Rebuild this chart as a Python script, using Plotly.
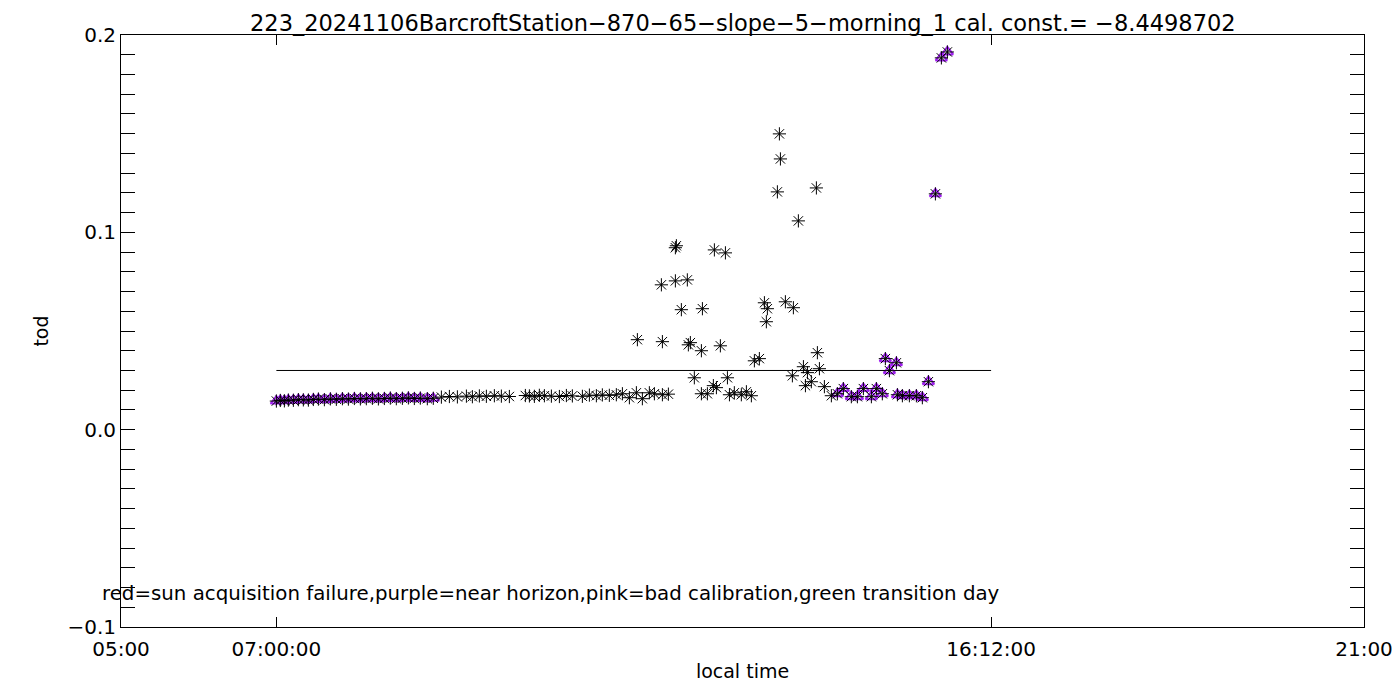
import plotly.graph_objects as go

# ---- data (decimal local hours, tod) ----
purple_early_t = [7.000, 7.051, 7.103, 7.154, 7.219, 7.283, 7.347, 7.412, 7.476, 7.541,
                  7.618, 7.695, 7.772, 7.850, 7.927, 8.004, 8.081, 8.158, 8.236, 8.313,
                  8.390, 8.467, 8.544, 8.622, 8.699, 8.776, 8.853, 8.943, 9.020]
purple_early_v = [0.0145, 0.0148, 0.0146, 0.0150, 0.0149, 0.0152, 0.0151, 0.0150, 0.0153, 0.0155,
                  0.0152, 0.0156, 0.0154, 0.0157, 0.0155, 0.0158, 0.0156, 0.0157, 0.0159, 0.0156,
                  0.0158, 0.0160, 0.0157, 0.0159, 0.0161, 0.0158, 0.0160, 0.0157, 0.0159]

black_low_t = [9.124, 9.227, 9.330, 9.446, 9.523, 9.613, 9.703, 9.806, 9.896, 9.999,
               10.205, 10.257, 10.321, 10.385, 10.450, 10.540, 10.643, 10.733, 10.810, 10.939,
               11.029, 11.119, 11.196, 11.286, 11.376, 11.454, 11.544, 11.634, 11.711, 11.801,
               11.866, 11.969, 12.046]
black_low_v = [0.0165, 0.0168, 0.0166, 0.0170, 0.0167, 0.0171, 0.0169, 0.0172, 0.0170, 0.0168,
               0.0173, 0.0171, 0.0169, 0.0174, 0.0172, 0.0170, 0.0168, 0.0173, 0.0171, 0.0169,
               0.0175, 0.0172, 0.0176, 0.0174, 0.0177, 0.0182, 0.0162, 0.0187, 0.0157, 0.0187,
               0.0182, 0.0177, 0.0180]

black_mid_t = [11.647, 11.956, 11.969, 12.136, 12.149, 12.136, 12.213, 12.290, 12.303, 12.329,
               12.380, 12.471, 12.471, 12.484, 12.548, 12.625, 12.664, 12.638, 12.715, 12.780,
               12.806, 12.832, 12.895, 12.985, 13.050, 13.114, 13.153, 13.217, 13.282, 13.307,
               13.320, 13.449, 13.475, 13.488, 13.552, 13.642, 13.655, 13.719, 13.784, 13.810,
               13.836, 13.886, 13.951, 13.964, 13.990, 14.054, 14.144]
black_mid_v = [0.0456, 0.0734, 0.0446, 0.0922, 0.0932, 0.0754, 0.0608, 0.0759, 0.0430, 0.0441,
               0.0263, 0.0400, 0.0182, 0.0613, 0.0182, 0.0223, 0.0213, 0.0911, 0.0425, 0.0896,
               0.0263, 0.0177, 0.0187, 0.0177, 0.0192, 0.0172, 0.0349, 0.0360, 0.0643, 0.0547,
               0.0613, 0.1205, 0.1499, 0.1372, 0.0648, 0.0273, 0.0618, 0.1058, 0.0319, 0.0223,
               0.0289, 0.0243, 0.1225, 0.0390, 0.0309, 0.0218, 0.0172]

purple_late_t = [14.221, 14.298, 14.401, 14.479, 14.556, 14.659, 14.723, 14.800, 14.839, 14.891,
                 14.981, 14.994, 15.058, 15.148, 15.238, 15.315, 15.393, 15.483, 15.560, 15.637]
purple_late_v = [0.0182, 0.0208, 0.0167, 0.0167, 0.0208, 0.0167, 0.0208, 0.0182, 0.0360, 0.0299,
                 0.0339, 0.0177, 0.0172, 0.0172, 0.0172, 0.0162, 0.0243, 0.1195, 0.1884, 0.1914]

ref_line_t = [7.0, 16.2]
ref_line_v = [0.03, 0.03]

x_tickvals = [5, 7, 16.2, 21]
x_ticktext = ["05:00", "07:00:00", "16:12:00", "21:00"]
y_tickvals = [-0.1, 0.0, 0.1, 0.2]
y_ticktext = ["\u22120.1", "0.0", "0.1", "0.2"]

title_text = "223_20241106BarcroftStation\u2212870\u221265\u2212slope\u22125\u2212morning_1 cal. const.= \u22128.4498702"
note_text = "red=sun acquisition failure,purple=near horizon,pink=bad calibration,green transition day"

all_t = purple_early_t + black_low_t + black_mid_t + purple_late_t
all_v = purple_early_v + black_low_v + black_mid_v + purple_late_v
purple_t = purple_early_t + purple_late_t
purple_v = purple_early_v + purple_late_v

FONT = "DejaVu Sans"
PURPLE = "#a020f0"

fig = go.Figure()
fig.add_trace(go.Scatter(x=ref_line_t, y=ref_line_v, mode="lines",
                         line=dict(color="black", width=1), hoverinfo="skip"))
fig.add_trace(go.Scatter(x=purple_t, y=purple_v, mode="markers",
                         marker=dict(symbol="triangle-up-open", size=10, color=PURPLE,
                                     line=dict(color=PURPLE, width=2))))
fig.add_trace(go.Scatter(x=all_t, y=all_v, mode="markers",
                         marker=dict(symbol="asterisk-open", size=11, color="black",
                                     line=dict(color="black", width=1))))

# page body adds an 8px offset, so the figure is 1392x692 with margins compensated
fig.update_layout(
    width=1392, height=692,
    margin=dict(l=113, r=36, t=27, b=73, autoexpand=False),
    paper_bgcolor="white", plot_bgcolor="white",
    showlegend=False,
    font=dict(family=FONT, size=19, color="black"),
    xaxis=dict(range=[5, 21], tickmode="array", tickvals=x_tickvals, ticktext=x_ticktext,
               ticks="inside", ticklen=10, tickcolor="black", tickwidth=1,
               showline=True, linecolor="black", linewidth=1, mirror="ticks",
               showgrid=False, zeroline=False, automargin=False,
               ticklabelstandoff=4,
               title=dict(text="local time", standoff=4, font=dict(size=19)),
               tickfont=dict(size=20)),
    yaxis=dict(range=[-0.1, 0.2], tickmode="array", tickvals=y_tickvals, ticktext=y_ticktext,
               ticks="inside", ticklen=14, tickcolor="black", tickwidth=1,
               showline=True, linecolor="black", linewidth=1, mirror="ticks",
               showgrid=False, zeroline=False, automargin=False,
               minor=dict(dtick=0.01, tick0=0, ticks="inside", ticklen=14,
                          tickcolor="black", tickwidth=1, showgrid=False),
               title=dict(text="tod", standoff=13, font=dict(size=19)),
               tickfont=dict(size=20)),
    annotations=[
        dict(text=title_text, x=0.5, y=1.0456, xref="paper", yref="paper",
             xanchor="center", yanchor="top", showarrow=False,
             font=dict(family=FONT, size=22.5, color="black")),
        dict(text=note_text, x=-0.0169, y=0.0574, xref="paper", yref="paper",
             xanchor="left", yanchor="middle", showarrow=False,
             font=dict(family=FONT, size=19.8, color="black")),
    ],
)

fig.write_html("out.html")
